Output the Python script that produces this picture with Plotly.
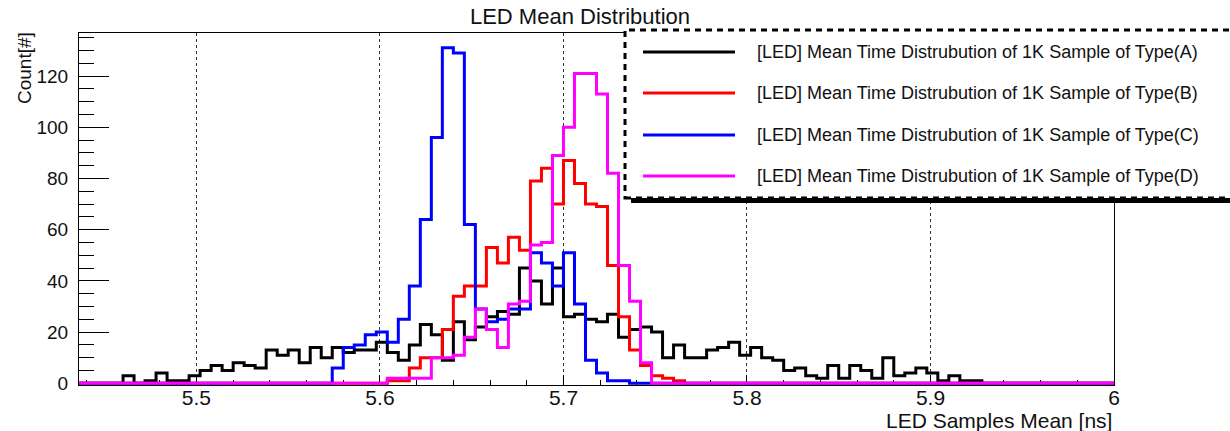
import plotly.graph_objects as go

# ---------------- data ----------------
HIST_LOW = 5.4
HIST_HIGH = 6.0
N_BINS = 100
X_AXIS_MIN = 5.436
X_AXIS_MAX = 6.0
Y_AXIS_MAX = 136.8

series_names = [
    "[LED] Mean Time Distrubution of 1K Sample of Type(A)",
    "[LED] Mean Time Distrubution of 1K Sample of Type(B)",
    "[LED] Mean Time Distrubution of 1K Sample of Type(C)",
    "[LED] Mean Time Distrubution of 1K Sample of Type(D)",
]
series_colors = ["#000000", "#ff0000", "#0000ff", "#ff00ff"]

first_bin_A = 10
counts_A = [3, 0, 1, 4, 1, 1, 3, 5, 7, 5, 8, 7, 6, 13, 11, 13, 8, 14, 10, 14,
            12, 13, 13, 16, 12, 9, 15, 23, 19, 9, 24, 17, 22, 26, 28, 27, 45, 40,
            31, 45, 26, 27, 25, 24, 27, 18, 21, 22, 20, 10, 15, 10, 10, 13, 14,
            16, 11, 14, 10, 9, 5, 6, 3, 2, 7, 2, 7, 5, 2, 10, 3, 4, 6, 4, 1, 3, 1, 1]

first_bin_B = 34
counts_B = [1, 1, 6, 10, 10, 21, 34, 38, 38, 53, 47, 57, 52, 79, 84, 70, 87, 78,
            70, 69, 46, 26, 13, 7, 3, 2, 1]

first_bin_C = 29
counts_C = [6, 14, 15, 19, 20, 16, 25, 38, 64, 96, 131, 129, 62, 29, 24, 25, 29,
            29, 51, 47, 38, 51, 31, 9, 4, 1, 1]

first_bin_D = 34
counts_D = [2, 2, 2, 2, 10, 10, 11, 18, 29, 21, 14, 31, 32, 54, 55, 89, 100, 121,
            121, 113, 82, 46, 32, 8]

x_tick_values = [5.5, 5.6, 5.7, 5.8, 5.9, 6.0]
x_tick_labels = ["5.5", "5.6", "5.7", "5.8", "5.9", "6"]
y_tick_values = [0, 20, 40, 60, 80, 100, 120]
y_tick_labels = ["0", "20", "40", "60", "80", "100", "120"]

title_text = "LED Mean Distribution"
x_title = "LED Samples Mean [ns]"
y_title = "Count[#]"

# ---------------- helpers ----------------
bin_edges = [HIST_LOW + i * (HIST_HIGH - HIST_LOW) / N_BINS for i in range(N_BINS + 1)]


def full_counts(first_bin, counts):
    arr = [0] * N_BINS
    for i, c in enumerate(counts):
        arr[first_bin + i] = c
    return arr


all_series = [
    full_counts(first_bin_A, counts_A),
    full_counts(first_bin_B, counts_B),
    full_counts(first_bin_C, counts_C),
    full_counts(first_bin_D, counts_D),
]

FONT = "Liberation Sans, Arial, Helvetica, sans-serif"
W, H = 1230, 431
ML, MR, MT, MB = 79, 116, 33, 46
PW = W - ML - MR
PH = H - MT - MB


def px_x(px):
    return (px - ML) / PW


def px_y(py):
    return (H - MB - py) / PH


fig = go.Figure()
for name, color, vals in zip(series_names, series_colors, all_series):
    fig.add_trace(go.Scatter(
        x=bin_edges,
        y=vals + [vals[-1]],
        mode="lines",
        line=dict(color=color, width=3, shape="hv"),
        name=name,
        showlegend=False,
        hoverinfo="skip",
    ))

# ---------------- legend (ROOT-style box) ----------------
shapes = []
shapes.append(dict(type="rect", xref="paper", yref="paper",
                   x0=px_x(631), x1=px_x(1260), y0=px_y(203), y1=px_y(36),
                   fillcolor="black", line=dict(width=0), layer="above"))
shapes.append(dict(type="rect", xref="paper", yref="paper",
                   x0=px_x(625), x1=px_x(1250), y0=px_y(198), y1=px_y(30),
                   fillcolor="white",
                   line=dict(color="black", width=3, dash="6px,5px"), layer="above"))

annotations = []
row_y = [52, 93, 135, 176]
for name, color, ry in zip(series_names, series_colors, row_y):
    shapes.append(dict(type="line", xref="paper", yref="paper",
                       x0=px_x(643), x1=px_x(735), y0=px_y(ry), y1=px_y(ry),
                       line=dict(color=color, width=3), layer="above"))
    annotations.append(dict(text=name, xref="paper", yref="paper",
                            x=px_x(755), y=px_y(ry), xanchor="left", yanchor="middle",
                            showarrow=False, font=dict(family=FONT, size=18, color="#111111")))

annotations.append(dict(text=x_title, xref="paper", yref="paper",
                        x=px_x(1114), y=px_y(420), xanchor="right", yanchor="middle",
                        showarrow=False, font=dict(family=FONT, size=21, color="#111111")))
annotations.append(dict(text=y_title, xref="paper", yref="paper",
                        x=px_x(24), y=px_y(30), xanchor="center", yanchor="top",
                        textangle=-90, showarrow=False,
                        font=dict(family=FONT, size=19, color="#111111")))

fig.update_layout(
    width=W, height=H,
    margin=dict(l=ML, r=MR, t=MT, b=MB, pad=0),
    paper_bgcolor="white", plot_bgcolor="white",
    showlegend=False,
    font=dict(family=FONT, color="#111111"),
    title=dict(text=title_text, xref="container", yref="container",
               x=580 / W, y=1 - 16 / H, xanchor="center", yanchor="middle",
               font=dict(family=FONT, size=22, color="#111111")),
    shapes=shapes,
    annotations=annotations,
    xaxis=dict(
        range=[X_AXIS_MIN, X_AXIS_MAX],
        showline=True, linecolor="black", linewidth=1, mirror=True,
        ticks="inside", ticklen=10, tickwidth=1, tickcolor="black",
        tickmode="array", tickvals=x_tick_values, ticktext=x_tick_labels,
        tickfont=dict(family=FONT, size=21, color="#111111"),
        ticklabelstandoff=-6,
        showgrid=True, gridcolor="#333333", gridwidth=1, griddash="dot",
        zeroline=False,
        minor=dict(ticks="inside", ticklen=5, tickwidth=1, tickcolor="black",
                   tickmode="linear", tick0=5.5, dtick=0.02, showgrid=False),
        layer="below traces",
    ),
    yaxis=dict(
        range=[-0.66, Y_AXIS_MAX],
        showline=True, linecolor="black", linewidth=1, mirror=True,
        ticks="inside", ticklen=30, tickwidth=1, tickcolor="black",
        tickmode="array", tickvals=y_tick_values, ticktext=y_tick_labels,
        tickfont=dict(family=FONT, size=19, color="#111111"),
        ticklabelstandoff=6,
        showgrid=False, zeroline=False,
        minor=dict(ticks="inside", ticklen=15, tickwidth=1, tickcolor="black",
                   tickmode="linear", tick0=0, dtick=5, showgrid=False),
        layer="below traces",
    ),
)

fig.write_html("out.html",
               config={"displayModeBar": False},
               post_script="document.body.style.margin='0';document.body.style.padding='0';")
